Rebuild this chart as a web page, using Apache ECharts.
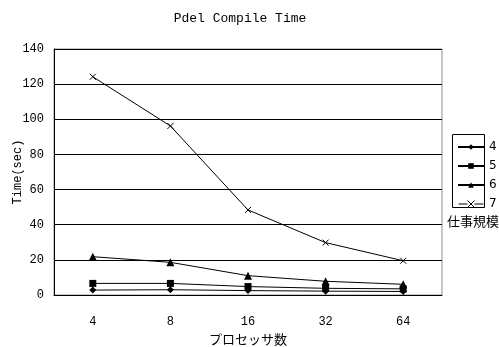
<!DOCTYPE html>
<html><head><meta charset="utf-8">
<script src="https://cdn.jsdelivr.net/npm/echarts@6/dist/echarts.min.js"></script>
<style>html,body{margin:0;padding:0;background:#fff}#c{width:499px;height:347px}</style>
</head><body><div id="c"></div>
<script>
const categories = ['4', '8', '16', '32', '64'];
const seriesNames = ['4', '5', '6', '7'];
const s4 = [2.8, 3.0, 2.5, 2.2, 2.0];
const s5 = [6.6, 6.6, 4.8, 3.8, 3.5];
const s6 = [21.8, 18.6, 11.0, 7.8, 6.1];
const s7 = [124.2, 96.2, 48.4, 29.8, 19.5];
const yTicks = [0, 20, 40, 60, 80, 100, 120, 140];

const mono = 'Liberation Mono';
const chart = echarts.init(document.getElementById('c'), null, {renderer: 'canvas'});
const xPath = 'path://M0,0L10,10M10,0L0,10';
function mk(name, data, symbol, size, isX) {
  return {
    name: name, type: 'line', data: data, symbol: symbol, symbolSize: size,
    lineStyle: {color: '#000', width: 1},
    itemStyle: isX ? {color: 'none', borderColor: '#000', borderWidth: 1} : {color: '#000'},
    emphasis: {disabled: true}, animation: false
  };
}
chart.setOption({
  backgroundColor: '#fff',
  animation: false,
  title: {text: 'Pdel Compile Time', left: 235, top: 7, textAlign: 'center',
    textStyle: {fontFamily: mono, fontSize: 13, fontWeight: 'normal', color: '#000'}},
  grid: {left: 54, right: 57, top: 49, bottom: 52, show: true, borderColor: '#8a9299', borderWidth: 1,
    backgroundColor: '#fff', outerBoundsMode: 'none', containLabel: false},
  legend: {
    orient: 'vertical', left: 456, top: 140,
    itemWidth: 26, itemHeight: 7, itemGap: 5, padding: 0,
    textStyle: {fontFamily: 'DejaVu Sans', fontSize: 12, lineHeight: 14, color: '#000'},
    data: [
      {name: seriesNames[0]},
      {name: seriesNames[1]},
      {name: seriesNames[2]},
      {name: seriesNames[3], icon: 'path://M0,5L3.6,5M6.4,5L10,5M3.6,3.6L6.4,6.4M6.4,3.6L3.6,6.4',
        itemStyle: {color: 'none', borderColor: '#000', borderWidth: 1}}
    ]
  },
  graphic: [
    {type: 'rect', shape: {x: 452.5, y: 134.5, width: 32, height: 73}, style: {fill: 'none', stroke: '#000', lineWidth: 1}, z: 100},
    {type: 'text', left: 447, top: 215, style: {text: '仕事規模', font: '13px "Noto Sans CJK JP"', fill: '#000'}}
  ],
  xAxis: {
    type: 'category', data: categories, boundaryGap: true,
    name: 'プロセッサ数', nameLocation: 'middle', nameGap: 38, nameMoveOverlap: false,
    nameTextStyle: {fontFamily: 'Noto Sans CJK JP', fontSize: 13, color: '#000'},
    axisLine: {lineStyle: {color: '#000', width: 1}},
    axisTick: {inside: true, length: 5, lineStyle: {color: '#000'}},
    axisLabel: {fontFamily: mono, fontSize: 12, color: '#000', margin: 21}
  },
  yAxis: {
    type: 'value', min: 0, max: 140, interval: 20,
    name: 'Time(sec)', nameLocation: 'middle', nameGap: 30, nameRotate: 90, nameMoveOverlap: false,
    nameTextStyle: {fontFamily: mono, fontSize: 12, color: '#000'},
    axisLine: {show: true, lineStyle: {color: '#000', width: 1}},
    axisTick: {show: false},
    splitLine: {lineStyle: {color: '#000', width: 1}},
    axisLabel: {fontFamily: mono, fontSize: 12, color: '#000', margin: 10,
      formatter: v => yTicks.includes(v) ? String(v) : ''}
  },
  series: [
    mk('4', s4, 'diamond', 7, false),
    mk('5', s5, 'rect', 7, false),
    mk('6', s6, 'triangle', 8, false),
    mk('7', s7, xPath, 6, true)
  ]
});
</script></body></html>
